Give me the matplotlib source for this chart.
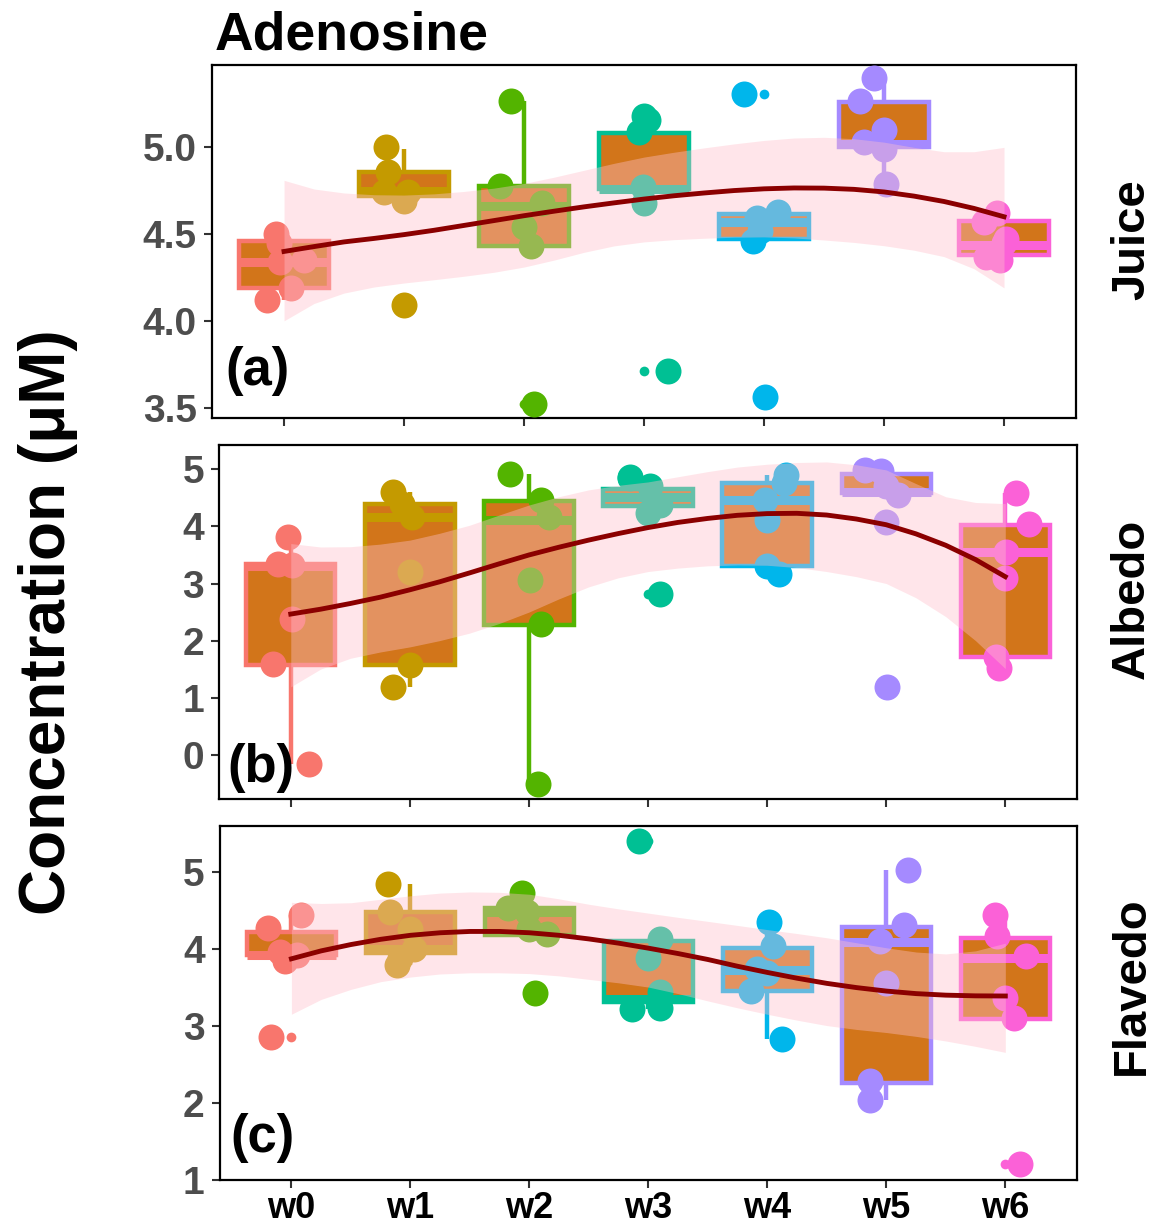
import matplotlib
matplotlib.use("Agg")
import matplotlib.pyplot as plt

plt.rcParams['font.family'] = ['Liberation Sans', 'DejaVu Sans']
plt.rcParams['font.weight'] = 'bold'

weeks = ['w0', 'w1', 'w2', 'w3', 'w4', 'w5', 'w6']
colours = ['#F8766D', '#C49A00', '#53B400', '#00C094', '#00B6EB', '#A58AFF', '#FB61D7']
box_fill = '#D2751A'

smooth_x = [0, 0.25, 0.5, 0.75, 1, 1.25, 1.5, 1.75, 2, 2.25, 2.5, 2.75, 3,
            3.25, 3.5, 3.75, 4, 4.25, 4.5, 4.75, 5, 5.25, 5.5, 5.75, 6]

# ---- Juice ----
juice_q1 = [4.19, 4.72, 4.43, 4.76, 4.47, 5.00, 4.38]
juice_med = [4.34, 4.75, 4.66, 4.76, 4.57, 5.02, 4.44]
juice_q3 = [4.46, 4.86, 4.78, 5.08, 4.615, 5.26, 4.575]
juice_lo = [4.12, 4.69, 4.43, 4.68, 4.47, 4.79, 4.35]
juice_hi = [4.50, 4.99, 5.27, 5.16, 4.63, 5.39, 4.62]
juice_out = [[], [4.09], [3.52], [3.71], [5.31, 3.56], [], []]
juice_y = [[4.50, 4.45, 4.34, 4.35, 4.19, 4.12],
           [5.00, 4.86, 4.74, 4.74, 4.69, 4.09],
           [5.27, 4.78, 4.68, 4.54, 4.43, 3.52],
           [5.18, 5.16, 5.09, 4.77, 4.68, 3.71],
           [5.31, 4.63, 4.59, 4.52, 4.46, 3.56],
           [5.40, 5.27, 5.10, 5.03, 4.99, 4.79],
           [4.62, 4.57, 4.45, 4.37, 4.35, 4.47]]
juice_dx = [[-0.07, -0.04, -0.03, 0.17, 0.06, -0.14],
            [-0.15, -0.13, 0.03, -0.17, 0.0, 0.0],
            [-0.11, -0.20, 0.15, 0.0, 0.06, 0.08],
            [0.0, 0.03, -0.04, -0.01, 0.0, 0.20],
            [-0.17, 0.12, -0.06, -0.03, -0.09, 0.01],
            [-0.08, -0.20, 0.0, -0.17, 0.0, 0.02],
            [-0.06, -0.17, 0.0, -0.15, -0.03, 0.02]]
juice_fit = [4.400, 4.428, 4.455, 4.475, 4.497, 4.522, 4.550, 4.578, 4.606, 4.632,
             4.657, 4.680, 4.702, 4.721, 4.737, 4.751, 4.761, 4.766, 4.765, 4.758,
             4.743, 4.719, 4.688, 4.648, 4.600]
juice_fit_lo = [4.00, 4.10, 4.16, 4.195, 4.218, 4.237, 4.257, 4.28, 4.31, 4.35,
                4.395, 4.432, 4.455, 4.468, 4.476, 4.482, 4.484, 4.478, 4.466, 4.452,
                4.433, 4.407, 4.37, 4.30, 4.19]
juice_fit_hi = [4.81, 4.76, 4.737, 4.727, 4.725, 4.732, 4.746, 4.765, 4.792, 4.828,
                4.868, 4.908, 4.944, 4.972, 4.997, 5.02, 5.04, 5.054, 5.058, 5.05,
                5.03, 5.00, 4.975, 4.975, 5.00]

# ---- Albedo ----
albedo_q1 = [1.57, 1.58, 2.28, 4.36, 3.31, 4.585, 1.72]
albedo_med = [3.30, 4.17, 4.12, 4.51, 4.46, 4.60, 3.55]
albedo_q3 = [3.35, 4.39, 4.445, 4.65, 4.76, 4.92, 4.02]
albedo_lo = [-0.16, 1.19, -0.52, 4.23, 3.17, 4.55, 1.52]
albedo_hi = [3.82, 4.60, 4.91, 4.87, 4.90, 4.99, 4.59]
albedo_out = [[], [], [], [2.82], [], [4.07, 1.19], []]
albedo_y = [[3.82, 3.34, 3.32, 2.38, 1.59, -0.16],
            [4.60, 4.40, 4.17, 3.20, 1.57, 1.19],
            [4.91, 4.47, 4.16, 3.06, 2.285, -0.52],
            [4.87, 4.84, 4.70, 4.38, 4.23, 2.82],
            [4.90, 4.76, 4.46, 4.11, 3.31, 3.17],
            [4.99, 4.975, 4.70, 4.55, 4.07, 1.19],
            [4.59, 4.04, 3.56, 3.09, 1.72, 1.52]]
albedo_dx = [[-0.02, -0.11, 0.01, 0.01, -0.15, 0.15],
             [-0.14, -0.07, 0.02, 0.0, 0.0, -0.14],
             [-0.16, 0.10, 0.17, 0.01, 0.10, 0.08],
             [-0.15, -0.15, 0.02, 0.10, 0.0, 0.10],
             [0.16, 0.14, -0.02, 0.0, 0.0, 0.10],
             [-0.18, -0.04, 0.0, 0.10, 0.0, 0.01],
             [0.09, 0.20, 0.01, 0.0, -0.08, -0.05]]
albedo_fit = [2.465, 2.55, 2.65, 2.76, 2.89, 3.03, 3.185, 3.345, 3.50, 3.635,
              3.76, 3.875, 3.98, 4.07, 4.14, 4.195, 4.225, 4.23, 4.20, 4.13,
              4.03, 3.87, 3.67, 3.42, 3.12]
albedo_fit_lo = [1.19, 1.50, 1.69, 1.80, 1.89, 2.00, 2.13, 2.30, 2.50, 2.73,
                 2.94, 3.10, 3.21, 3.27, 3.31, 3.325, 3.32, 3.28, 3.21, 3.12,
                 3.00, 2.75, 2.42, 2.00, 1.51]
albedo_fit_hi = [3.70, 3.64, 3.645, 3.69, 3.76, 3.88, 4.02, 4.20, 4.375, 4.52,
                 4.64, 4.72, 4.78, 4.87, 4.96, 5.04, 5.09, 5.12, 5.13, 5.08,
                 4.99, 4.75, 4.52, 4.42, 4.40]

# ---- Flavedo ----
flavedo_q1 = [3.91, 3.94, 4.175, 3.30, 3.45, 2.26, 3.09]
flavedo_med = [3.91, 3.99, 4.47, 3.35, 3.72, 4.09, 3.88]
flavedo_q3 = [4.22, 4.47, 4.52, 4.10, 4.01, 4.28, 4.14]
flavedo_lo = [3.86, 3.79, 4.175, 3.21, 2.83, 2.03, 3.09]
flavedo_hi = [4.44, 4.84, 4.72, 4.12, 4.35, 5.02, 4.42]
flavedo_out = [[2.85], [], [3.42], [5.39], [], [], [1.20]]
flavedo_y = [[4.27, 4.44, 3.96, 3.92, 3.84, 2.85],
             [4.84, 4.48, 4.25, 4.00, 3.88, 3.79],
             [4.72, 4.53, 4.48, 4.25, 4.19, 3.42],
             [5.39, 4.12, 3.88, 3.43, 3.21, 3.23],
             [4.35, 4.03, 3.73, 3.68, 3.45, 2.83],
             [5.02, 4.30, 4.095, 3.55, 2.285, 2.035],
             [4.44, 4.16, 3.90, 3.36, 3.10, 1.20]]
flavedo_dx = [[-0.20, 0.08, -0.10, 0.05, -0.05, -0.17],
              [-0.19, -0.17, 0.0, 0.03, -0.09, -0.11],
              [-0.06, -0.18, -0.02, 0.0, 0.15, 0.05],
              [-0.08, 0.10, 0.0, 0.10, -0.14, 0.10],
              [0.01, 0.05, -0.09, 0.0, -0.14, 0.12],
              [0.18, 0.15, -0.05, 0.0, -0.14, -0.14],
              [-0.09, -0.07, 0.17, 0.0, 0.07, 0.12]]
flavedo_fit = [3.867, 3.97, 4.052, 4.12, 4.172, 4.205, 4.222, 4.222, 4.205, 4.172,
               4.125, 4.07, 4.005, 3.935, 3.858, 3.77, 3.69, 3.615, 3.548, 3.493,
               3.448, 3.415, 3.395, 3.386, 3.384]
flavedo_fit_lo = [3.147, 3.34, 3.47, 3.57, 3.63, 3.67, 3.685, 3.685, 3.675, 3.645,
                  3.60, 3.555, 3.50, 3.415, 3.32, 3.23, 3.147, 3.07, 3.00, 2.95,
                  2.91, 2.86, 2.80, 2.73, 2.652]
flavedo_fit_hi = [4.60, 4.585, 4.595, 4.64, 4.685, 4.72, 4.735, 4.73, 4.705, 4.645,
                  4.575, 4.515, 4.46, 4.405, 4.353, 4.30, 4.246, 4.195, 4.14, 4.075,
                  4.01, 3.955, 3.93, 3.97, 4.07]


def draw_panel(ax, q1, med, q3, lo, hi, out, ys, dxs, fit, fit_lo, fit_hi):
    stats = []
    for i in range(len(weeks)):
        stats.append(dict(q1=q1[i], med=med[i], q3=q3[i], whislo=lo[i],
                          whishi=hi[i], fliers=out[i]))
    bp = ax.bxp(stats, positions=range(len(weeks)), widths=0.75,
                patch_artist=True, showcaps=False, zorder=2,
                boxprops=dict(linewidth=3.2, facecolor=box_fill),
                medianprops=dict(linewidth=6.5, solid_capstyle='butt'),
                whiskerprops=dict(linewidth=3.2, solid_capstyle='butt'),
                flierprops=dict(marker='o', markersize=7, markeredgewidth=0))
    for i, c in enumerate(colours):
        bp['boxes'][i].set_edgecolor(c)
        bp['medians'][i].set_color(c)
        bp['whiskers'][2 * i].set_color(c)
        bp['whiskers'][2 * i + 1].set_color(c)
        bp['fliers'][i].set_markerfacecolor(c)

    # jittered points
    for i, c in enumerate(colours):
        xs = [i + d for d in dxs[i]]
        ax.scatter(xs, ys[i], s=350, color=c, linewidths=0, zorder=3)

    # smooth curve with confidence band
    ax.fill_between(smooth_x, fit_lo, fit_hi, color='pink', alpha=0.4, linewidth=0, zorder=4)
    ax.plot(smooth_x, fit, color='darkred', linewidth=3.5, zorder=5,
            solid_joinstyle='round')

    ax.set_xlim(-0.6, 6.6)
    ax.set_xticks(range(len(weeks)))
    for s in ax.spines.values():
        s.set_linewidth(1.6)
    ax.tick_params(axis='both', length=6, width=1.5, color='#333333')
    ax.tick_params(axis='y', labelsize=28, labelcolor='#4D4D4D', pad=5)
    ax.tick_params(axis='x', labelsize=26, labelcolor='black', pad=2)


fig = plt.figure(figsize=(11.58, 12.26), dpi=100)

ax1 = fig.add_axes([0.1831, 0.6588, 0.7461, 0.2882])
draw_panel(ax1, juice_q1, juice_med, juice_q3, juice_lo, juice_hi, juice_out,
           juice_y, juice_dx, juice_fit, juice_fit_lo, juice_fit_hi)
ax1.set_ylim(3.438, 5.475)
ax1.set_yticks([3.5, 4.0, 4.5, 5.0])
ax1.set_yticklabels(['3.5', '4.0', '4.5', '5.0'])
ax1.set_xticklabels([])
ax1.text(0.016, 0.094, '(a)', transform=ax1.transAxes, fontsize=38,
         fontweight='bold', ha='left', va='baseline', zorder=6)

ax2 = fig.add_axes([0.1894, 0.348, 0.7404, 0.289])
draw_panel(ax2, albedo_q1, albedo_med, albedo_q3, albedo_lo, albedo_hi, albedo_out,
           albedo_y, albedo_dx, albedo_fit, albedo_fit_lo, albedo_fit_hi)
ax2.set_ylim(-0.781, 5.426)
ax2.set_yticks([0, 1, 2, 3, 4, 5])
ax2.set_xticklabels([])
ax2.text(0.009, 0.05, '(b)', transform=ax2.transAxes, fontsize=38,
         fontweight='bold', ha='left', va='baseline', zorder=6)

ax3 = fig.add_axes([0.19, 0.0375, 0.7398, 0.2887])
draw_panel(ax3, flavedo_q1, flavedo_med, flavedo_q3, flavedo_lo, flavedo_hi, flavedo_out,
           flavedo_y, flavedo_dx, flavedo_fit, flavedo_fit_lo, flavedo_fit_hi)
ax3.set_ylim(0.995, 5.59)
ax3.set_yticks([1, 2, 3, 4, 5])
ax3.set_xticklabels(weeks)
ax3.text(0.012, 0.08, '(c)', transform=ax3.transAxes, fontsize=38,
         fontweight='bold', ha='left', va='baseline', zorder=6)

# strip labels on the right, reading bottom to top
for yc, lab in [(0.8042, 'Juice'), (0.5114, 'Albedo'), (0.1958, 'Flavedo')]:
    fig.text(1132 / 1158, yc, lab, rotation=90,
             fontsize=34, fontweight='bold', ha='center', va='center')

fig.text(0.1857, 0.9598, 'Adenosine', fontsize=38.5, fontweight='bold',
         ha='left', va='baseline')
fig.text(0.0415, 0.4927, 'Concentration (\u03bcM)', rotation=90, fontsize=46,
         fontweight='bold', ha='center', va='center')

fig.savefig('out.png', dpi=100)
